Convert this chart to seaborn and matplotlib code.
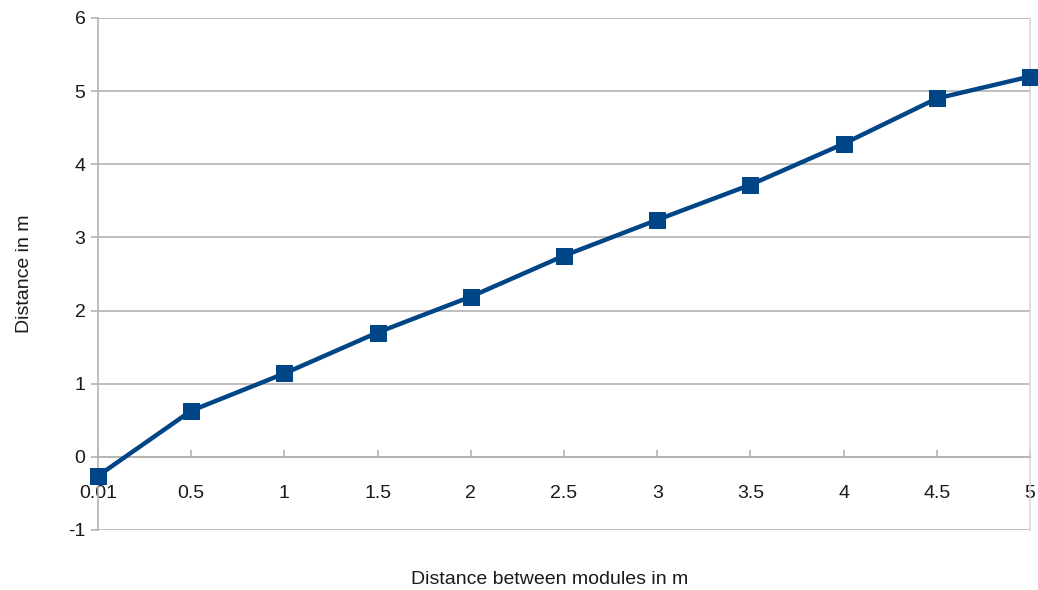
import matplotlib
matplotlib.use("Agg")
import matplotlib.pyplot as plt
import seaborn as sns
import pandas as pd

categories = ["0.01", "0.5", "1", "1.5", "2", "2.5", "3", "3.5", "4", "4.5", "5"]
distance = [-0.26, 0.63, 1.14, 1.70, 2.19, 2.75, 3.24, 3.72, 4.28, 4.90, 5.20]
y_ticks = [-1, 0, 1, 2, 3, 4, 5, 6]

sns.set_style("white")
plt.rcParams["font.family"] = ["Liberation Sans", "DejaVu Sans"]

df = pd.DataFrame({"pos": range(len(categories)), "value": distance})

fig = plt.figure(figsize=(10.38, 5.90), dpi=100)
ax = fig.add_axes([98/1038, 1 - 530/590, (1030 - 98)/1038, (530 - 18)/590])

grid_c = "#b3b3b3"
for yv in y_ticks:
    ax.axhline(yv, color=grid_c, lw=1.2, zorder=0)

sns.lineplot(data=df, x="pos", y="value", ax=ax, color="#004586", lw=3.2,
             marker="s", markersize=12, markeredgecolor="#004586",
             clip_on=False, zorder=5)

ax.set_xlim(0, len(categories) - 1)
ax.set_ylim(-1, 6)
ax.set_yticks(y_ticks)
ax.set_yticklabels([str(v) for v in y_ticks])
ax.set_xticks(range(len(categories)))
ax.set_xticklabels(categories)

ax.spines["top"].set_visible(False)
ax.spines["left"].set_color(grid_c)
ax.spines["left"].set_linewidth(1.2)
ax.spines["right"].set_color("#d9d9d9")
ax.spines["right"].set_linewidth(1.2)
ax.spines["bottom"].set_position(("data", 0))
ax.spines["bottom"].set_color(grid_c)
ax.spines["bottom"].set_linewidth(1.2)

ax.tick_params(axis="y", which="both", left=True, length=5, width=1.2,
               color=grid_c, pad=4, labelsize=14, labelcolor="#1a1a1a")
ax.tick_params(axis="x", which="both", bottom=True, direction="in",
               length=5, width=1.2, color=grid_c, pad=20, labelsize=14,
               labelcolor="#1a1a1a")

ax.set_xlabel("Distance between modules in m", fontsize=14, color="#1a1a1a",
              labelpad=0)
ax.xaxis.set_label_coords(0.485, -0.081)
ax.set_ylabel("Distance in m", fontsize=14, color="#1a1a1a")
ax.yaxis.set_label_coords(-0.07, 0.5)

fig.savefig("out.png", dpi=100)
